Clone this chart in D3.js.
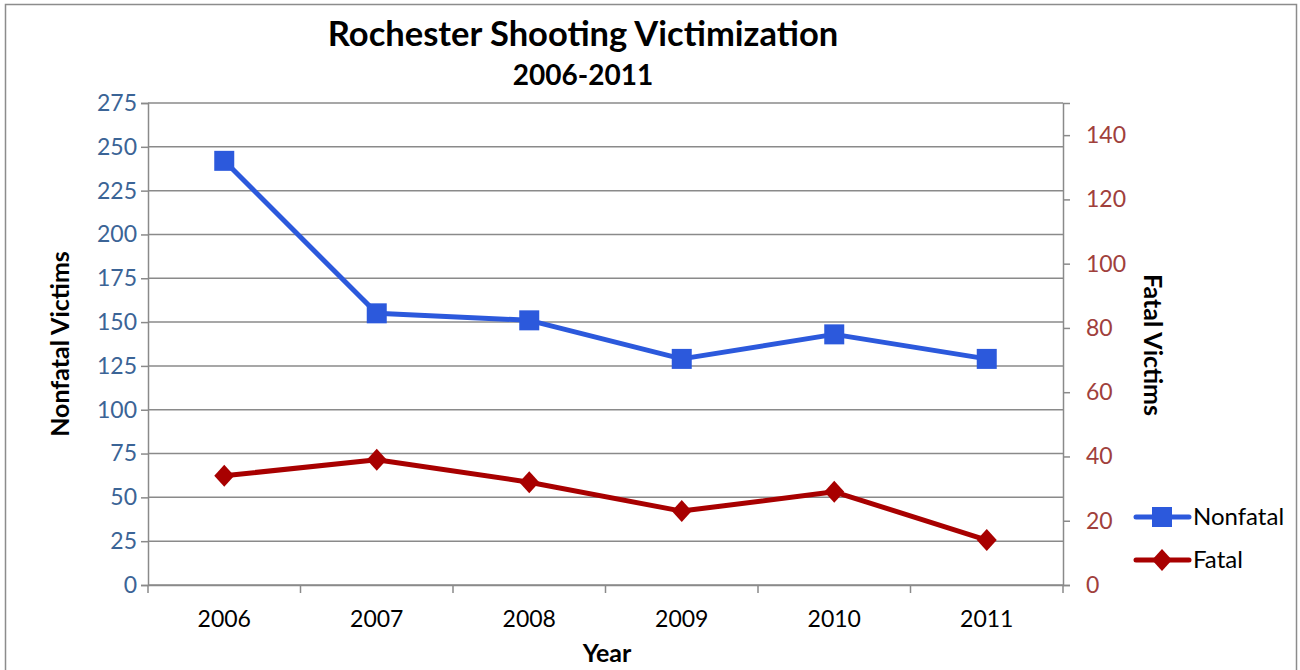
<!DOCTYPE html>
<html><head><meta charset="utf-8">
<script src="https://cdn.jsdelivr.net/npm/d3@7"></script>
<style>body{margin:0;background:#fff}svg{display:block;font-family:Lato,"Open Sans",sans-serif}</style>
</head><body><svg id="c" width="1300" height="670"></svg>
<script>
const years = ["2006","2007","2008","2009","2010","2011"];
const nonfatal = [242,155,151,129,143,129];
const fatal = [34,39,32,23,29,14];
const leftTicks = [0,25,50,75,100,125,150,175,200,225,250,275];
const rightTicks = [0,20,40,60,80,100,120,140];

const svg = d3.select("#c");
const L=148,R=1063,T=103,B=585;
svg.append("rect").attr("x",5.5).attr("y",4.5).attr("width",1291).attr("height",680).attr("fill","#fff").attr("stroke","#8c8c8c").attr("stroke-width",1.5);

const x = d3.scaleBand().domain(years).range([L,R]);
const yL = d3.scaleLinear().domain([0,275]).range([B,T]);
const yR = d3.scaleLinear().domain([0,150]).range([B,T]);
const grid="#8a8a8a";

svg.append("g").selectAll("line").data(leftTicks).join("line")
 .attr("x1",L).attr("x2",R).attr("y1",d=>yL(d)).attr("y2",d=>yL(d))
 .attr("stroke",grid).attr("stroke-width",1.5);

const gl = svg.append("g").attr("transform",`translate(${L},0)`)
 .call(d3.axisLeft(yL).tickValues(leftTicks).tickSize(7).tickPadding(4));
gl.select(".domain").attr("stroke",grid).attr("stroke-width",1.5);
gl.selectAll(".tick line").attr("stroke",grid).attr("stroke-width",1.5);
gl.selectAll("text").attr("font-size",23).attr("fill","#3b6496").attr("font-family","Lato");

const gr = svg.append("g").attr("transform",`translate(${R},0)`)
 .call(d3.axisRight(yR).tickValues(rightTicks).tickSize(7).tickPadding(16));
gr.select(".domain").attr("stroke",grid).attr("stroke-width",1.5);
gr.selectAll(".tick line").attr("stroke",grid).attr("stroke-width",1.5);
gr.selectAll("text").attr("font-size",23).attr("fill","#a0403c").attr("font-family","Lato");

const gb = svg.append("g").attr("transform",`translate(0,${B})`)
 .call(d3.axisBottom(x).tickSize(0).tickPadding(26));
gb.select(".domain").attr("stroke",grid).attr("stroke-width",1.5);
gb.selectAll("text").attr("font-size",23).attr("fill","#000").attr("font-family","Lato");
const bounds = years.map(d=>x(d)).concat([R]);
svg.append("g").selectAll("line").data(bounds).join("line")
 .attr("x1",d=>d).attr("x2",d=>d).attr("y1",B).attr("y2",B+8)
 .attr("stroke",grid).attr("stroke-width",1.5);

const cx = d=>x(d)+x.bandwidth()/2;
const blue="#2c59dc", red="#a80000";
const lineL = d3.line().x((d,i)=>cx(years[i])).y(d=>yL(d));
const lineR = d3.line().x((d,i)=>cx(years[i])).y(d=>yR(d));
svg.append("path").attr("d",lineL(nonfatal)).attr("fill","none").attr("stroke",blue).attr("stroke-width",5).attr("stroke-linejoin","round");
svg.append("path").attr("d",lineR(fatal)).attr("fill","none").attr("stroke",red).attr("stroke-width",5).attr("stroke-linejoin","round");
const sq = 20;
svg.append("g").selectAll("rect").data(nonfatal).join("rect")
 .attr("x",(d,i)=>cx(years[i])-sq/2).attr("y",d=>yL(d)-sq/2).attr("width",sq).attr("height",sq).attr("fill",blue);
const diamond = "M0,-11L10,0L0,11L-10,0Z";
svg.append("g").selectAll("path").data(fatal).join("path")
 .attr("d",diamond).attr("transform",(d,i)=>`translate(${cx(years[i])},${yR(d)})`).attr("fill",red);

svg.append("text").attr("x",583).attr("y",46).attr("text-anchor","middle").attr("font-size",34.5).attr("font-weight","bold").text("Rochester Shooting Victimization");
svg.append("text").attr("x",583).attr("y",85).attr("text-anchor","middle").attr("font-size",28).attr("font-weight","bold").text("2006-2011");
svg.append("text").attr("x",607).attr("y",662).attr("text-anchor","middle").attr("font-size",25).attr("font-weight","bold").text("Year");
svg.append("text").attr("transform","translate(69,344) rotate(-90)").attr("text-anchor","middle").attr("font-size",25).attr("font-weight","bold").text("Nonfatal Victims");
svg.append("text").attr("transform","translate(1144,345) rotate(90)").attr("text-anchor","middle").attr("font-size",25).attr("font-weight","bold").text("Fatal Victims");

const leg = [{name:"Nonfatal",c:blue,y:517,m:"sq"},{name:"Fatal",c:red,y:560,m:"dia"}];
leg.forEach(l=>{
  svg.append("line").attr("x1",1136).attr("x2",1189).attr("y1",l.y).attr("y2",l.y).attr("stroke",l.c).attr("stroke-width",5).attr("stroke-linecap","round");
  if(l.m==="sq") svg.append("rect").attr("x",1162-10).attr("y",l.y-10).attr("width",20).attr("height",20).attr("fill",l.c);
  else svg.append("path").attr("d",diamond).attr("transform",`translate(1162,${l.y})`).attr("fill",l.c);
  svg.append("text").attr("x",1193).attr("y",l.y+8).attr("font-size",24).text(l.name);
});
</script></body></html>
